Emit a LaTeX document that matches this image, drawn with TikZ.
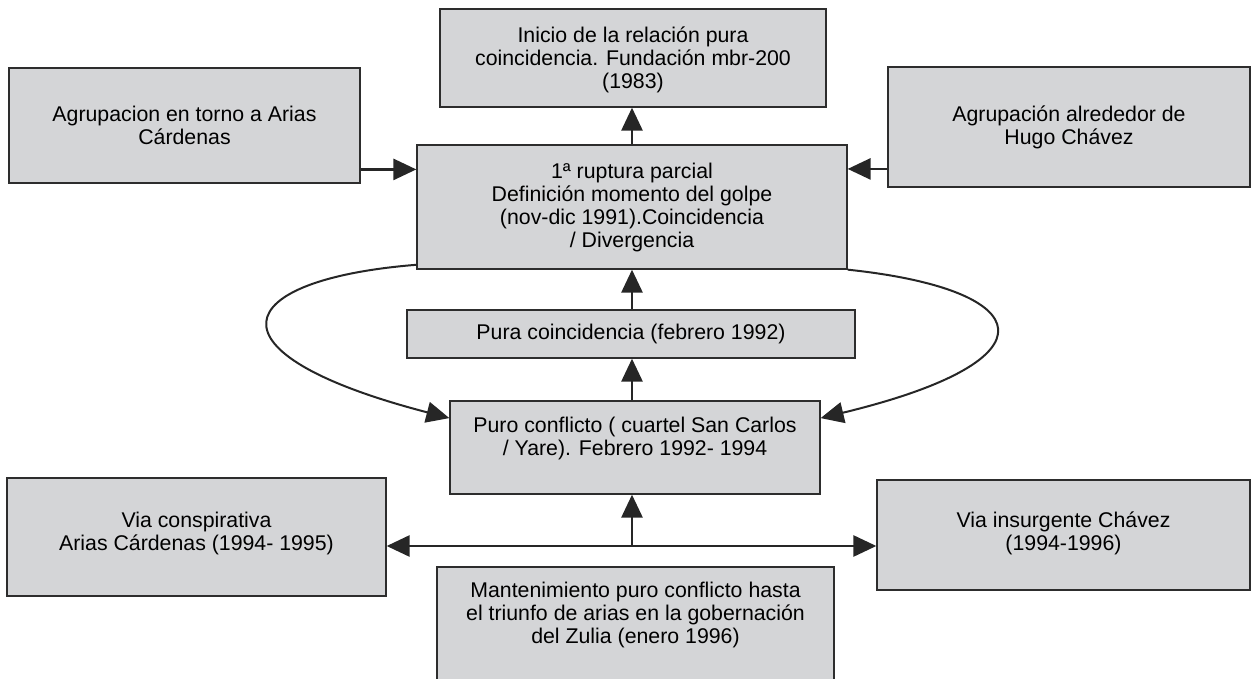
\documentclass[tikz,border=0pt]{standalone}
\usepackage{fontspec}
\setmainfont{Liberation Sans}
\usetikzlibrary{arrows.meta}

\definecolor{boxgray}{RGB}{212,213,215}
\definecolor{edgegray}{RGB}{45,45,45}

\begin{document}
\begin{tikzpicture}[
    x=1pt, y=-1pt,
    box/.style={draw=edgegray, line width=1.3pt, fill=boxgray, inner sep=0pt, align=center, font=\fontsize{21.3}{23}\selectfont},
    arr/.style={-{Triangle[length=23pt, width=21pt]}, line width=2.8pt, black!85},
    looparr/.style={-{Triangle[length=23pt, width=21pt]}, line width=2pt, black!85}
]
\useasboundingbox (0,0) rectangle (1251,679);
\clip (0,0) rectangle (1251,679);

\node[box, minimum width=386pt, minimum height=98pt, text height=66pt] (inicio) at (633,58) {Inicio de la relación pura\\coincidencia. Fundación mbr-200\\(1983)};
\node[box, minimum width=351pt, minimum height=115pt] (arias) at (184.5,125.5) {Agrupacion en torno a Arias\\Cárdenas};
\node[box, minimum width=362pt, minimum height=120pt] (hugo) at (1069,127) {Agrupación alrededor de\\Hugo Chávez};
\node[box, minimum width=430pt, minimum height=124pt] (ruptura) at (632,207) {1ª ruptura parcial\\Definición momento del golpe\\(nov-dic 1991).Coincidencia\\/ Divergencia};
\node[box, minimum width=448pt, minimum height=48pt] (pura) at (631,334) {Pura coincidencia (febrero 1992)};
\node[box, minimum width=370pt, minimum height=93pt, text depth=22pt] (conflicto) at (635,447.5) {Puro conflicto ( cuartel San Carlos\\/ Yare). Febrero 1992- 1994};
\node[box, minimum width=379pt, minimum height=118pt, text depth=11.5pt] (conspir) at (196.5,537) {Via conspirativa\\Arias Cárdenas (1994- 1995)};
\node[box, minimum width=373pt, minimum height=110pt, text depth=7.5pt] (insurg) at (1063.5,535) {Via insurgente Chávez\\(1994-1996)};
\node[box, minimum width=397pt, minimum height=122pt, text depth=30pt] (manten) at (635.5,628) {Mantenimiento puro conflicto hasta\\el triunfo de arias en la gobernación\\del Zulia (enero 1996)};

% vertical chain
\draw[arr] (ruptura.north) -- (ruptura.north |- inicio.south);
\draw[arr] (pura.north -| ruptura.south) -- (ruptura.south);
\draw[arr] (conflicto.north -| ruptura.south) -- (pura.south -| ruptura.south);

% side groups
\draw[arr] (arias.-14) -- (arias.-14 -| ruptura.west);
\draw[arr] (hugo.193) -- (hugo.193 -| ruptura.east);

% loops
\draw[looparr] (ruptura.195) .. controls +(-187,15) and +(-250,-65) .. (conflicto.171);
\draw[looparr] (ruptura.south east) .. controls +(190,20) and +(240,-58) .. (conflicto.9);

% bottom fork
\coordinate (fork) at (632,546);
\draw[arr] (fork) -- (fork |- conflicto.south);
\draw[arr] (fork) -- (fork -| conspir.east);
\draw[arr] (fork) -- (fork -| insurg.west);
\end{tikzpicture}
\end{document}
